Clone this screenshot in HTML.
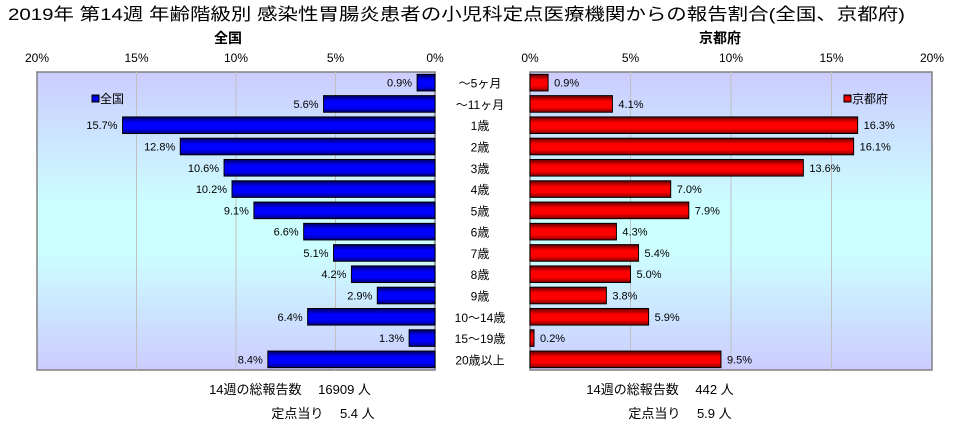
<!DOCTYPE html>
<html><head><meta charset="utf-8">
<style>
body{margin:0;background:#fff;width:967px;height:428px;overflow:hidden}
svg{display:block;font-family:"Liberation Sans","Noto Sans CJK JP",sans-serif}
</style></head>
<body>
<svg id="chart" width="967" height="428" viewBox="0 0 967 428" xmlns="http://www.w3.org/2000/svg">
<defs>
<linearGradient id="bg" x1="0" y1="0" x2="0" y2="1">
<stop offset="0" stop-color="#ccccff"/><stop offset="0.45" stop-color="#ccffff"/><stop offset="0.6" stop-color="#ccffff"/><stop offset="1" stop-color="#ccccff"/>
</linearGradient>
<linearGradient id="gb" x1="0" y1="0" x2="0" y2="1">
<stop offset="0" stop-color="#000060"/><stop offset="0.35" stop-color="#0000ff"/><stop offset="0.7" stop-color="#0000ff"/><stop offset="1" stop-color="#000080"/>
</linearGradient>
<linearGradient id="gr" x1="0" y1="0" x2="0" y2="1">
<stop offset="0" stop-color="#600000"/><stop offset="0.35" stop-color="#ff0000"/><stop offset="0.7" stop-color="#ff0000"/><stop offset="1" stop-color="#800000"/>
</linearGradient>
</defs>
<text x="8" y="20" font-size="17" textLength="897" lengthAdjust="spacingAndGlyphs">2019年 第14週 年齢階級別 感染性胃腸炎患者の小児科定点医療機関からの報告割合(全国、京都府)</text>
<text x="228" y="43" font-size="14" text-anchor="middle" font-weight="bold">全国</text>
<text x="720" y="43" font-size="14" text-anchor="middle" font-weight="bold">京都府</text>
<g id="plots"></g>
<text x="290" y="394" font-size="13" text-anchor="middle">14週の総報告数　 16909 人</text>
<text x="323" y="418" font-size="13" text-anchor="middle">定点当り　 5.4 人</text>
<text x="660" y="394" font-size="13" text-anchor="middle">14週の総報告数　 442 人</text>
<text x="680" y="418" font-size="13" text-anchor="middle">定点当り　 5.9 人</text>
</svg>
<script>
const categories = ["～5ヶ月","～11ヶ月","1歳","2歳","3歳","4歳","5歳","6歳","7歳","8歳","9歳","10～14歳","15～19歳","20歳以上"];
const nationalValues = [0.9,5.6,15.7,12.8,10.6,10.2,9.1,6.6,5.1,4.2,2.9,6.4,1.3,8.4];
const kyotoValues = [0.9,4.1,16.3,16.1,13.6,7.0,7.9,4.3,5.4,5.0,3.8,5.9,0.2,9.5];
const tickValues = [0,5,10,15,20];

(function(){
const NS = "http://www.w3.org/2000/svg";
const g = document.getElementById("plots");
const plotTop = 72, plotBottom = 370, maxV = 20;
const rowH = (plotBottom - plotTop) / categories.length;
function mk(tag, attrs) {
  const e = document.createElementNS(NS, tag);
  for (const k in attrs) e.setAttribute(k, attrs[k]);
  g.appendChild(e);
  return e;
}
function yCenter(i) { return plotTop + rowH * (i + 0.5); }

function panel(x0, x20, values, fill, side, legendLabel, legendX) {
  const xs = v => x0 + (x20 - x0) * v / maxV;
  const left = Math.min(x0, x20), right = Math.max(x0, x20);
  const bg = mk("rect", {x: left, y: plotTop, width: right - left, height: plotBottom - plotTop, fill: "url(#bg)", stroke: "#808080", "stroke-width": 1.5});
  
  
  tickValues.forEach(t => {
    const x = xs(t);
    if (t > 0 && t < maxV) {
      const l = mk("line", {x1: x, x2: x, y1: plotTop, y2: plotBottom, stroke: "#c0c0c0", "stroke-width": 1});
      
      
    }
    const tx = mk("text", {x: x, y: 62, "font-size": 12, "text-anchor": "middle"});
    tx.textContent = t + "%";
    
    
  });
  values.forEach((v, i) => {
    const xe = xs(v);
    const bh = rowH * 0.78;
    const r = mk("rect", {x: Math.min(x0, xe), y: yCenter(i) - bh / 2, width: Math.abs(xe - x0), height: bh, fill: fill, stroke: "#000", "stroke-width": 1});
    
    
    const lx = x20 < x0 ? xe - 5 : xe + 6;
    const t = mk("text", {x: lx, y: yCenter(i) + 4, "font-size": 11, "text-anchor": x20 < x0 ? "end" : "start"});
    t.textContent = v.toFixed(1) + "%";
    
    
  });
  const lg = mk("rect", {x: legendX, y: 95, width: 7, height: 7, fill: fill, stroke: "#000", "stroke-width": 1});
  
  
  const lt = mk("text", {x: legendX + 8, y: 103, "font-size": 12});
  lt.textContent = legendLabel;
  
  
}
panel(435, 37, nationalValues, "url(#gb)", "national", "全国", 92);
panel(530, 932, kyotoValues, "url(#gr)", "kyoto", "京都府", 844);
categories.forEach((c, i) => {
  const t = mk("text", {x: 480, y: yCenter(i) + 5, "font-size": 12, "text-anchor": "middle"});
  t.textContent = c;
  
  
});
})();
</script>
</body></html>
